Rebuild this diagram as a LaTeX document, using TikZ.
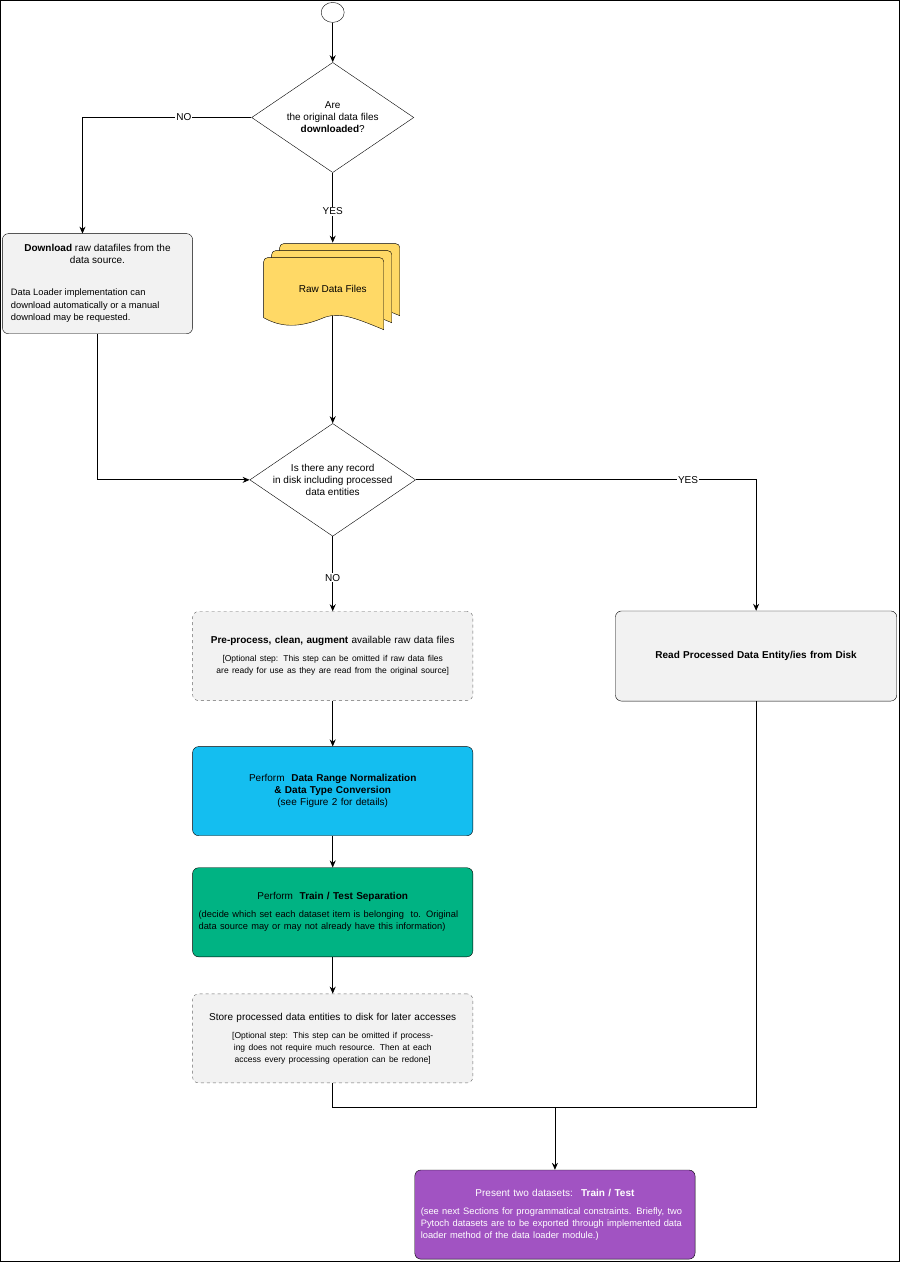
\documentclass[tikz,border=0pt]{standalone}
\usepackage{fontspec}
\setmainfont{Liberation Sans}
\usetikzlibrary{arrows.meta, positioning, shapes.geometric}
\definecolor{boxgray}{HTML}{F2F2F2}
\definecolor{filesyellow}{HTML}{FFD966}
\definecolor{normblue}{HTML}{14BEF0}
\definecolor{splitgreen}{HTML}{00B383}
\definecolor{outpurple}{HTML}{A153C2}

\tikzset{
  procbox/.style={draw, rounded corners=6pt, minimum width=280pt, minimum height=89pt, align=center, font=\fontsize{10}{12}\selectfont, text width=268pt},
  optional/.style={procbox, dashed, draw=gray!80!black, fill=boxgray},
  decision/.style={draw, diamond, aspect=1.47, minimum width=162pt, minimum height=110pt, inner sep=0pt, align=center, font=\fontsize{10}{12}\selectfont},
  flow/.style={-{Stealth[length=7pt, width=6pt]}, thick},
  lab/.style={fill=white, inner sep=1pt, font=\fontsize{10}{12}\selectfont}
}
\newcommand{\notefont}{\fontsize{8.5}{12.5}\selectfont}

\begin{document}
\begin{tikzpicture}[x=1pt, y=-1pt]

                            % Frame
                            \draw[thick] (1,1) rectangle (899,1261);

                            % Start
                            \node[draw, ellipse, minimum width=23pt, minimum height=20pt] (start) at (333,13) {};

                            % Decisions
                            \node[decision] (downloaded) at (333,118) {Are\\the original data files\\\textbf{downloaded}?};
                            \node[decision] (record) at (333,480) {Is there any record\\in disk including processed\\data entities};

                            % Download box
                            \node[procbox, fill=boxgray, minimum width=190pt, text width=182pt, minimum height=100pt] (download) at (98,284) {};
                            \node[align=center, font=\fontsize{10}{12}\selectfont] at (98,254) {\textbf{Download} raw datafiles from the\\data source.};
                            \node[align=left, font=\fontsize{9.3}{12.5}\selectfont, anchor=west] at (8,306) {Data Loader implementation can\\download automatically or a manual\\download may be requested.};
                            \coordinate (dltop) at (83,234);

                            % Raw data files (stacked document)
                            \foreach \dx/\dy in {16/-14, 8/-7, 0/0} {
                              \draw[fill=filesyellow, shift={(\dx,\dy)}] (264,270) [rounded corners=4pt] -- (264,258) -- (384,258) [sharp corners] -- (384,330)
                                .. controls (355,318) and (340,312) .. (324,318) .. controls (305,326) and (285,330) .. (264,318) -- cycle;
                            }
                            \node[font=\fontsize{10}{12}\selectfont] (files) at (333,289) {Raw Data Files};
                            \coordinate (filesbot) at (333,316);
                            \coordinate (filestop) at (333,243);

                            % Process steps
                            \node[optional] (prep) at (333,656) {\textbf{Pre-process, clean, augment} available raw data files\\[6pt]{\notefont [Optional step: This step can be omitted if raw data files are ready for use as they are read from the original source]}};
                            \node[procbox, fill=normblue] (norm) at (333,791) {Perform \ \textbf{Data Range Normalization}\\\textbf{\& Data Type Conversion}\\(see Figure 2 for details)};
                            \node[procbox, fill=splitgreen, align=left] (split) at (333,912) {\centering Perform \ \textbf{Train / Test Separation}\par\vspace{6pt}{\fontsize{9.3}{12.5}\selectfont (decide which set each dataset item is belonging \ to. Original data source may or may not already have this information)}};
                            \node[optional] (store) at (333,1038) {Store processed data entities to disk for later accesses\\[6pt]{\notefont [Optional step: This step can be omitted if processing does not require much resource. Then at each access every processing operation can be redone]}};
                            \node[procbox, fill=boxgray, minimum width=281pt, minimum height=90pt] (read) at (756,656) {\textbf{Read Processed Data Entity/ies from Disk}};
                            \node[procbox, fill=outpurple, text=white, align=left] (present) at (555,1214) {\centering Present two datasets: \ \textbf{Train / Test}\par\vspace{6pt}{\fontsize{9.3}{12.5}\selectfont (see next Sections for programmatical constraints. Briefly, two Pytoch datasets are to be exported through implemented data loader method of the data loader module.)}};

                            % Connectors
                            \coordinate (join) at (555,1107);
                            \draw[flow] (start) -- (downloaded);
                            \draw[flow] (downloaded.west) -| node[lab, pos=0.2] {NO} (dltop);
                            \draw[flow] (downloaded) -- node[lab, pos=0.55] {YES} (filestop);
                            \draw[flow] (filesbot) -- (record);
                            \draw[flow] (download.south) |- (record.west);
                            \draw[flow] (record.east) -| node[lab, pos=0.4] {YES} (read.north);
                            \draw[flow] (record) -- node[lab, pos=0.55] {NO} (prep);
                            \draw[flow] (prep) -- (norm);
                            \draw[flow] (norm) -- (split);
                            \draw[flow] (split) -- (store);
                            \draw[thick] (store.south) |- (join);
                            \draw[thick] (read.south) |- (join);
                            \draw[flow] (join) -- (present);

\end{tikzpicture}
\end{document}
